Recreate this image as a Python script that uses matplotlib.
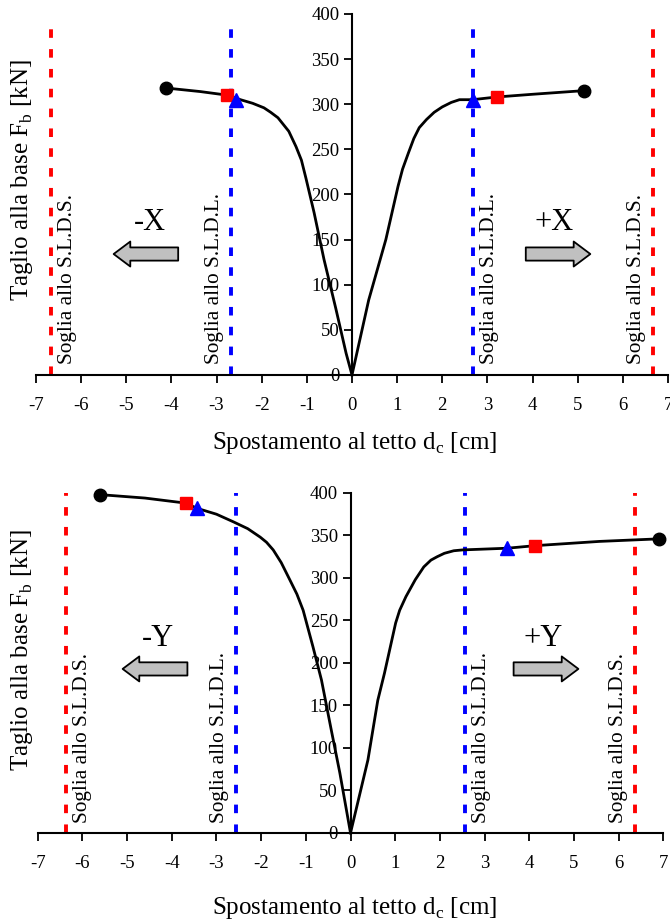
import matplotlib
matplotlib.use("Agg")
import matplotlib.pyplot as plt
from matplotlib.patches import FancyArrowPatch

plt.rcParams["font.family"] = ["Liberation Serif", "DejaVu Serif"]
plt.rcParams["mathtext.fontset"] = "custom"
plt.rcParams["mathtext.rm"] = "Liberation Serif"
plt.rcParams["axes.unicode_minus"] = False

# direzione X (curva di capacita')
x_neg_d = [0, -0.13, -0.36, -0.62, -0.84, -1.02, -1.12, -1.24, -1.4, -1.64, -1.8, -1.95, -2.2, -2.47, -2.76, -3.36, -4.13]
x_neg_f = [0, 24, 74, 128, 180, 218, 238, 253, 270, 285, 291, 296, 301, 305, 310, 314, 318]
x_pos_d = [0, 0.37, 0.75, 1.02, 1.12, 1.25, 1.37, 1.49, 1.65, 1.82, 2.0, 2.2, 2.38, 2.67, 3.21, 4.0, 5.13]
x_pos_f = [0, 83, 150, 209, 228, 246, 262, 274, 283, 291, 297, 302, 305, 305, 308, 311, 315]

# direzione Y
y_neg_d = [0, -0.24, -0.43, -0.65, -0.84, -1.06, -1.2, -1.36, -1.55, -1.73, -1.88, -2.02, -2.3, -2.62, -3.0, -3.44, -3.68, -4.6, -5.6]
y_neg_f = [0, 71, 121, 180, 219, 262, 281, 298, 318, 333, 342, 348, 358, 366, 375, 382, 388, 394, 398]
y_pos_d = [0, 0.39, 0.61, 0.76, 1.01, 1.1, 1.24, 1.45, 1.64, 1.8, 1.94, 2.1, 2.31, 2.51, 3.51, 4.13, 5.57, 6.9]
y_pos_f = [0, 86, 156, 188, 247, 262, 278, 298, 313, 321, 325, 329, 332, 333, 335, 338, 343, 346]

# punti notevoli: triangolo blu, quadrato rosso, cerchio nero (negativo, positivo)
x_tri = [(-2.56, 305), (2.67, 305)]
x_sq = [(-2.76, 310), (3.21, 308)]
x_end = [(-4.13, 318), (5.13, 315)]
y_tri = [(-3.44, 382), (3.51, 335)]
y_sq = [(-3.68, 388), (4.13, 338)]
y_end = [(-5.6, 398), (6.9, 346)]

# soglie
x_sld = 2.67
x_sls = 6.67
y_sld = 2.56
y_sls = 6.36

xticks = list(range(-7, 8))
yticks = list(range(0, 401, 50))

panels = [
    dict(rect=[0.0537, 0.5942, 0.9433, 0.3907], neg=(x_neg_d, x_neg_f), pos=(x_pos_d, x_pos_f),
         tri=x_tri, sq=x_sq, end=x_end, sld=x_sld, sls=x_sls, top=388, name="X",
         sign_y=169, arrow_y=134, sign_x=4.48, arr=(3.85, 5.28),
         ylab=(22, 180), xlab=(355, 443)),
    dict(rect=[0.0563, 0.0985, 0.9337, 0.368], neg=(y_neg_d, y_neg_f), pos=(y_pos_d, y_pos_f),
         tri=y_tri, sq=y_sq, end=y_end, sld=y_sld, sls=y_sls, top=400, name="Y",
         sign_y=229, arrow_y=193, sign_x=4.3, arr=(3.65, 5.1),
         ylab=(22, 650), xlab=(355, 908)),
]

fig = plt.figure(figsize=(6.7, 9.24), dpi=100)
W, H = 670, 924

for p in panels:
    ax = fig.add_axes(p["rect"])
    ax.set_xlim(-7, 7)
    ax.set_ylim(0, 400)
    ax.spines["top"].set_visible(False)
    ax.spines["right"].set_visible(False)
    ax.spines["left"].set_position(("data", 0))
    for s in ("left", "bottom"):
        ax.spines[s].set_linewidth(1.5)
    ax.set_xticks(xticks)
    ax.set_yticks(yticks)
    ax.tick_params(axis="both", direction="out", length=6, width=1.3, labelsize=13.5)
    ax.tick_params(axis="x", pad=10)
    ax.tick_params(axis="y", pad=3)
    ax.set_axisbelow(False)

    # soglie
    for xv, col in ((p["sld"], "#0000ff"), (p["sls"], "#ff0000")):
        for sgn in (-1, 1):
            ax.plot([sgn * xv, sgn * xv], [0, p["top"]], color=col, lw=2.8,
                    dashes=(2.2, 2.9), zorder=2, clip_on=False)
    lab_sld = "Soglia allo S.L.D.L."
    lab_sls = "Soglia allo S.L.D.S."
    off = 0.37
    for xt, txt in ((-p["sls"] + off, lab_sls), (-p["sld"] - off, lab_sld),
                    (p["sld"] + off, lab_sld), (p["sls"] - off, lab_sls)):
        ax.text(xt, 12, txt, rotation=90, ha="center", va="bottom", fontsize=15.3)

    # curve
    for d, f in (p["neg"], p["pos"]):
        ax.plot(d, f, color="black", lw=2.0, zorder=3, clip_on=False,
                solid_joinstyle="round")
    for pts, mk, col, ms in ((p["end"], "o", "black", 9), (p["sq"], "s", "#ff0000", 8.5),
                             (p["tri"], "^", "#0000ff", 9.5)):
        ax.plot([q[0] for q in pts], [q[1] for q in pts], linestyle="none", marker=mk,
                color=col, markersize=ms, zorder=4, clip_on=False)

    # frecce di direzione
    ax.text(-p["sign_x"], p["sign_y"], "-" + p["name"], ha="center", va="center", fontsize=22)
    ax.text(p["sign_x"], p["sign_y"], "+" + p["name"], ha="center", va="center", fontsize=22)
    a0, a1 = p["arr"]
    style = "simple,head_length=12,head_width=18,tail_width=9.5"
    for start, end in (((-a0, p["arrow_y"]), (-a1, p["arrow_y"])),
                       ((a0, p["arrow_y"]), (a1, p["arrow_y"]))):
        ax.add_patch(FancyArrowPatch(start, end, arrowstyle=style, mutation_scale=1,
                                     shrinkA=0, shrinkB=0, fc="#c0c0c0", ec="black",
                                     lw=1.3, zorder=3))

    fig.text(p["ylab"][0] / W, 1 - p["ylab"][1] / H, r"Taglio alla base F$_{\mathregular{b}}$ [kN]",
             rotation=90, ha="center", va="center", fontsize=18)
    fig.text(p["xlab"][0] / W, 1 - p["xlab"][1] / H, r"Spostamento al tetto d$_{\mathregular{c}}$ [cm]",
             ha="center", va="center", fontsize=18)

fig.savefig("out.png", dpi=100)
